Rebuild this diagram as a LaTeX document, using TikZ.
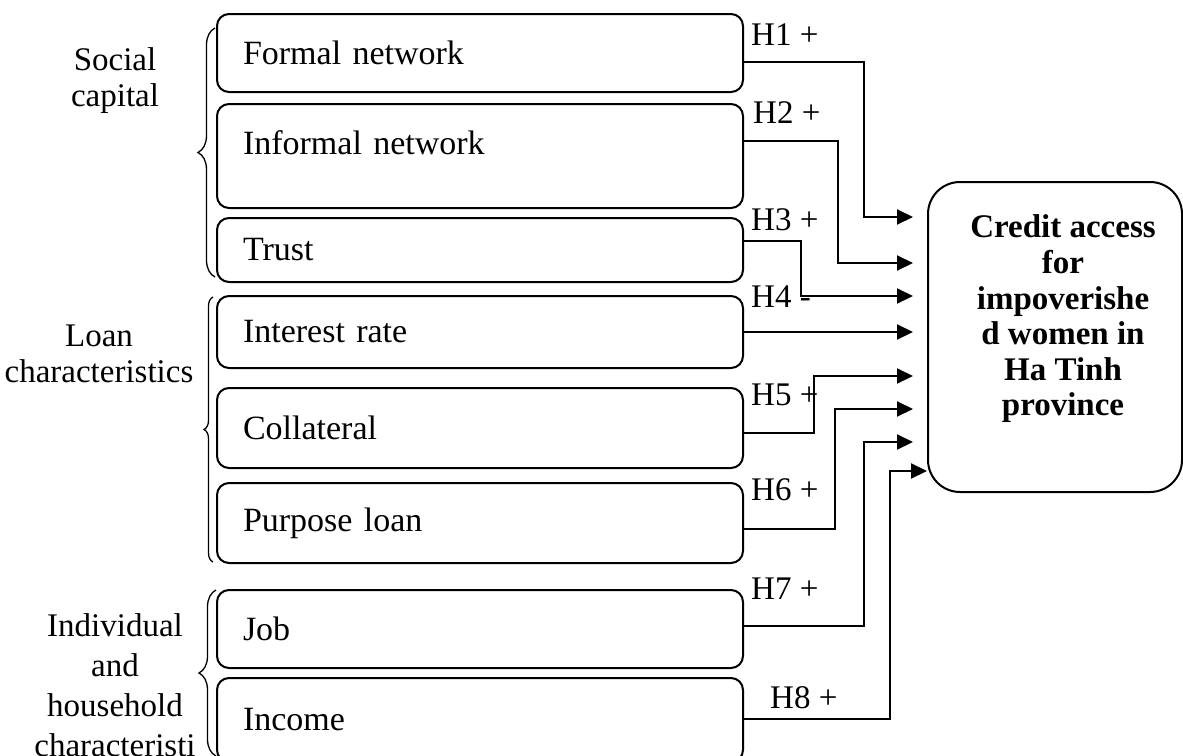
\documentclass[tikz,border=0pt]{standalone}
\usepackage{fontspec}
\setmainfont{Liberation Serif}
\usetikzlibrary{arrows.meta,decorations.pathreplacing}

\begin{document}
\begin{tikzpicture}[x=1pt, y=-1pt,
		every node/.style={font=\fontsize{33}{36}\selectfont, inner sep=0pt},
		factor/.style={draw, line width=2pt, rounded corners=12pt, inner xsep=26pt,
			minimum width=526pt, minimum height=#1, text width=474pt, align=left,
			font=\fontsize{34}{36}\selectfont},
		outcome/.style={draw, line width=2pt, rounded corners=32pt,
			minimum width=254pt, minimum height=310pt},
		outcome text/.style={align=center, font=\bfseries\fontsize{33}{35.6}\selectfont},
		group/.style={align=center},
		hyp/.style={anchor=base west},
		curly/.style={decorate, line width=1.3pt, decoration={brace, amplitude=#1}},
		link/.style={line width=2pt, -{Triangle[length=16pt, width=15pt]}}
	]
	\useasboundingbox (0,0) rectangle (1183,755);
	%
	\begin{scope}
		\node[group] (soc) at (115,81) {Social\\capital};
		\draw[curly=17pt] (215,277) -- (215,28);
		\node[factor=78pt] (fn) at (480,53) {Formal network};
		\node[factor=104pt, text depth=26pt] (inf) at (480,156) {Informal network};
		\node[factor=64pt] (tr) at (480,250) {Trust};
	\end{scope}
	%
	\begin{scope}
		\node[group] (loan) at (99,354) {Loan\\characteristics};
		\draw[curly=9pt] (213,562) -- (213,297);
		\node[factor=72pt] (ir) at (480,332) {Interest rate};
		\node[factor=80pt] (col) at (480,428) {Collateral};
		\node[factor=80pt] (pl) at (480,523) {Purpose loan};
	\end{scope}
	%
	\begin{scope}
		\node[group, font=\fontsize{33}{40}\selectfont] (ind) at (115,685) {Individual\\and\\household\\characteristi};
		\draw[curly=17pt] (216,756) -- (216,590);
		\node[factor=78pt] (job) at (480,629) {Job};
		\node[factor=84pt] (inc) at (480,720) {Income};
	\end{scope}
	%
	\node[outcome] (cred) at (1055,337) {};
	\node[outcome text] (credtxt) at (1063,319) {Credit access\\for\\impoverishe\\d women in\\Ha Tinh\\province};
	%
	\foreach \n/\y in {1/217, 2/263, 3/296, 4/332, 5/376, 6/409, 7/442}
		\coordinate (in\n) at (913,\y);
	\coordinate (in8) at (927,471);
	%
	\foreach \n/\x/\y/\s in {1/751/45/+, 2/753/123/+, 3/751/230/+, 4/751/307/-,
		5/751/405/+, 6/751/500/+, 7/751/599/+, 8/770/708/+}
		\node[hyp] (h\n) at (\x,\y) {H\n\ \s};
	%
	\foreach \b/\s/\t/\n in {fn/-9/120/1, inf/15/94/2, tr/9/57/3, ir/0/0/4,
		col/-5/70/5, pl/-6/91/6, job/3/120/7, inc/1/146/8}
		\draw[link] ([yshift=\s pt]\b.east) -- ++(\t,0) |- (in\n);
\end{tikzpicture}
\end{document}
